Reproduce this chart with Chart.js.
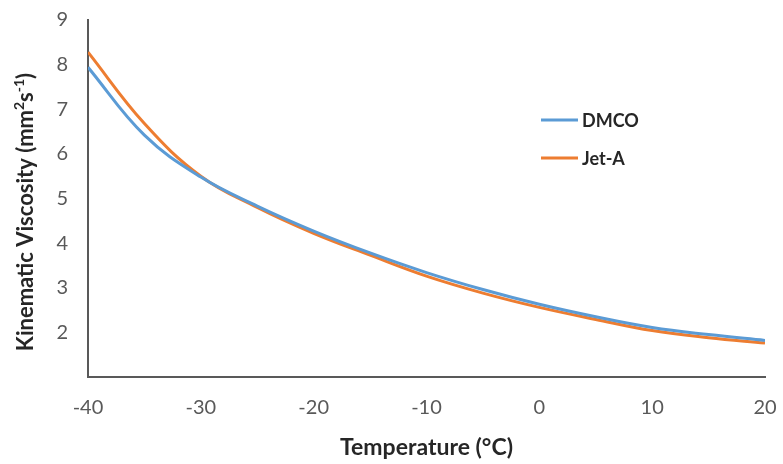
<!DOCTYPE html>
<html>
<head>
<meta charset="utf-8">
<script src="https://cdn.jsdelivr.net/npm/chart.js@4"></script>
<style>
  html, body { margin: 0; padding: 0; background: #fff; }
  #wrap { width: 783px; height: 464px; }
</style>
</head>
<body>
<div id="wrap"><canvas id="viscosityChart" width="783" height="464"></canvas></div>
<script>
const temperatures = [-40, -35, -30, -25, -20, -15, -10, -5, 0, 5, 10, 15, 20];
const dmcoValues = [7.94, 6.42, 5.48, 4.83, 4.27, 3.78, 3.34, 2.96, 2.63, 2.35, 2.11, 1.95, 1.82];
const jetAValues = [8.28, 6.68, 5.50, 4.80, 4.22, 3.73, 3.26, 2.88, 2.56, 2.29, 2.04, 1.88, 1.76];
const seriesNames = ['DMCO', 'Jet-A'];
const seriesColors = ['#5B9BD5', '#ED7D31'];

const FONT = "Lato, 'Open Sans', 'DejaVu Sans', sans-serif";

function toPoints(xs, ys) {
  return xs.map((x, i) => ({ x: x, y: ys[i] }));
}

// legend drawn inside the plot like the excel one
const insideLegend = {
  id: 'insideLegend',
  afterDraw(chart) {
    const ctx = chart.ctx;
    const rows = [120, 158];
    ctx.save();
    chart.data.datasets.forEach((ds, i) => {
      const y = rows[i];
      ctx.strokeStyle = ds.borderColor;
      ctx.lineWidth = 3;
      ctx.beginPath();
      ctx.moveTo(541, y);
      ctx.lineTo(578, y);
      ctx.stroke();
      ctx.fillStyle = '#262626';
      ctx.font = "bold 18px " + FONT;
      ctx.textBaseline = 'middle';
      ctx.textAlign = 'left';
      ctx.fillText(ds.label, 582, y + 1);
    });
    ctx.restore();
  }
};

// y axis title with real superscripts (mm2 s-1)
const yTitle = {
  id: 'yTitle',
  afterDraw(chart) {
    const ctx = chart.ctx;
    const parts = [
      ['Kinematic Viscosity (mm', false],
      ['2', true],
      ['s', false],
      ['-1', true],
      [')', false]
    ];
    const big = "bold 22px " + FONT;
    const small = "bold 14px " + FONT;
    ctx.save();
    let total = 0;
    parts.forEach(([t, sup]) => {
      ctx.font = sup ? small : big;
      total += ctx.measureText(t).width;
    });
    ctx.translate(26, 212);
    ctx.rotate(-Math.PI / 2);
    ctx.fillStyle = '#262626';
    ctx.textBaseline = 'middle';
    ctx.textAlign = 'left';
    let x = -total / 2;
    parts.forEach(([t, sup]) => {
      ctx.font = sup ? small : big;
      ctx.fillText(t, x, sup ? -7 : 0);
      x += ctx.measureText(t).width;
    });
    ctx.restore();
  }
};

new Chart(document.getElementById('viscosityChart'), {
  type: 'line',
  data: {
    datasets: [
      {
        label: seriesNames[0],
        data: toPoints(temperatures, dmcoValues),
        borderColor: seriesColors[0],
        backgroundColor: seriesColors[0],
        borderWidth: 3,
        pointRadius: 0,
        tension: 0.4
      },
      {
        label: seriesNames[1],
        data: toPoints(temperatures, jetAValues),
        borderColor: seriesColors[1],
        backgroundColor: seriesColors[1],
        borderWidth: 3,
        pointRadius: 0,
        tension: 0.4
      }
    ]
  },
  options: {
    responsive: false,
    animation: false,
    layout: { autoPadding: false, padding: { top: 20, right: 18, left: 0, bottom: 0 } },
    plugins: {
      legend: { display: false },
      tooltip: { enabled: false }
    },
    scales: {
      x: {
        type: 'linear',
        min: -40,
        max: 20,
        grid: { display: false, drawTicks: false },
        border: { display: true, color: '#595959', width: 2 },
        ticks: {
          stepSize: 10,
          padding: 19,
          color: '#595959',
          font: { family: FONT, size: 20 }
        },
        title: {
          display: true,
          text: 'Temperature (°C)',
          color: '#262626',
          font: { family: FONT, size: 23, weight: 'bold' },
          padding: { top: 0, bottom: 3 }
        },
        afterFit(scale) {
          scale.height = 87;
          scale.paddingLeft = 0;
          scale.paddingRight = 0;
        }
      },
      y: {
        min: 1,
        max: 9,
        grid: { display: false, drawTicks: false },
        border: { display: true, color: '#595959', width: 2 },
        ticks: {
          stepSize: 1,
          padding: 20,
          color: '#595959',
          font: { family: FONT, size: 20 },
          callback: (value) => value === 1 ? '' : value
        },
        title: { display: false },
        afterFit(scale) {
          scale.width = 88;
          scale.paddingTop = 0;
          scale.paddingBottom = 0;
        }
      }
    }
  },
  plugins: [insideLegend, yTitle]
});
</script>
</body>
</html>
